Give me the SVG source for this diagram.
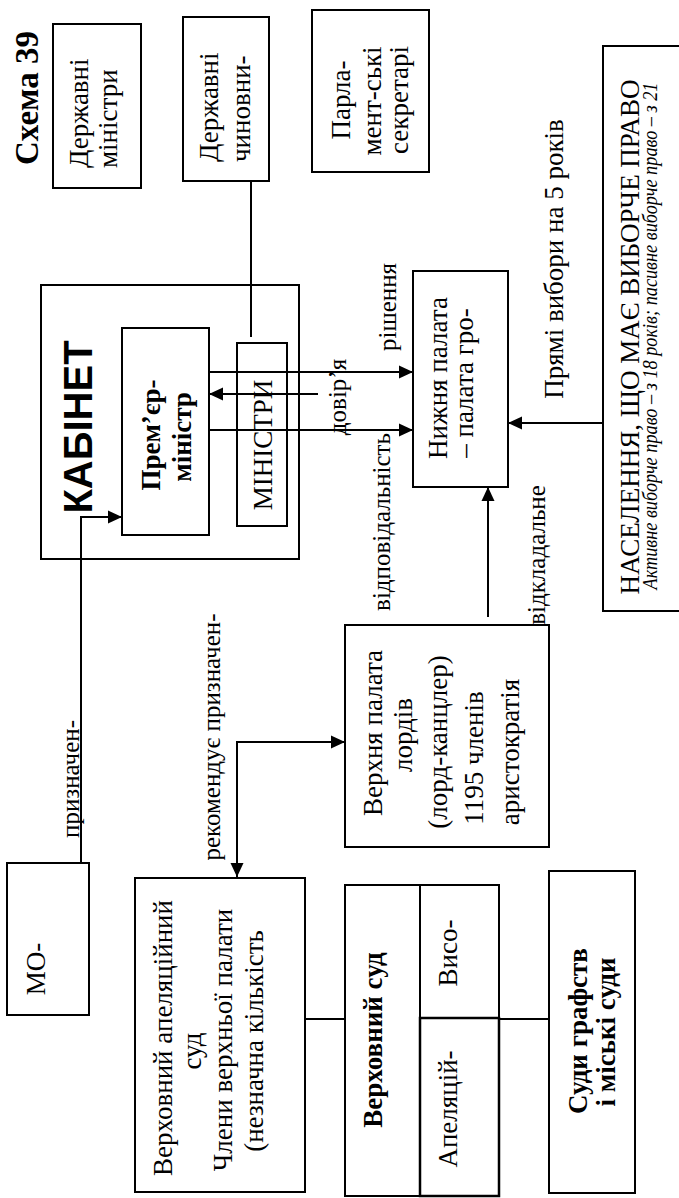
<svg xmlns="http://www.w3.org/2000/svg" width="679" height="1198" viewBox="0 0 679 1198">
<style>
.b{fill:none;stroke:#000;stroke-width:2}
.c{fill:none;stroke:#000;stroke-width:2}
.t{font-family:"Liberation Serif","Times New Roman",serif;font-size:27px;fill:#000}
.l{font-family:"Liberation Serif","Times New Roman",serif;font-size:25px;fill:#000}
.bd{font-weight:bold}
.i{font-style:italic;font-size:20px}
.k{font-family:"Liberation Sans",Arial,sans-serif;font-weight:bold;font-size:40px;fill:#000}
</style>
<defs>
<marker id="a" markerUnits="userSpaceOnUse" markerWidth="14" markerHeight="14" refX="14" refY="7" orient="auto-start-reverse" viewBox="0 0 14 14"><path d="M0,0.5 L14,7 L0,13.5 z" fill="#000"/></marker>
</defs>
<rect width="679" height="1198" fill="#fff"/>
<g id="title"><text class="t bd" style="font-size:33px" text-anchor="middle" transform="translate(38,98) rotate(-90)">Схема 39</text></g>
<g id="derzh-ministry"><rect class="b" x="53" y="24" width="88" height="164"/>
<text class="t" transform="translate(88,168) rotate(-90)">Державні</text>
<text class="t" transform="translate(117,168) rotate(-90)">міністри</text></g>
<g id="derzh-chynovnyky"><rect class="b" x="183" y="17" width="86" height="164"/>
<text class="t" transform="translate(218,162) rotate(-90)">Державні</text>
<text class="t" transform="translate(250,162) rotate(-90)">чиновни-</text></g>
<g id="parl-secretaries"><rect class="b" x="312" y="10" width="117" height="162"/>
<text class="t" text-anchor="middle" transform="translate(350,100) rotate(-90)">Парла-</text>
<text class="t" text-anchor="middle" transform="translate(381,101) rotate(-90)">мент-ські</text>
<text class="t" text-anchor="middle" transform="translate(408,100) rotate(-90)">секретарі</text></g>
<g id="naselennia"><rect class="b" x="603" y="46" width="90" height="565"/>
<text class="t" text-anchor="middle" transform="translate(639,337) rotate(-90)">НАСЕЛЕННЯ, ЩО МАЄ ВИБОРЧЕ ПРАВО</text>
<text class="t i" text-anchor="middle" textLength="507" lengthAdjust="spacingAndGlyphs" transform="translate(657,336) rotate(-90)">Активне виборче право – з 18 років; пасивне виборче право – з 21</text></g>
<g id="kabinet"><rect class="b" x="41" y="285" width="258" height="274"/>
<text class="k" text-anchor="middle" transform="translate(92,427) rotate(-90)">КАБІНЕТ</text></g>
<g id="prem"><rect class="b" x="122" y="328" width="87" height="207"/>
<text class="t bd" text-anchor="middle" transform="translate(160,435) rotate(-90)">Прем’єр-</text>
<text class="t bd" text-anchor="middle" transform="translate(191,437) rotate(-90)">міністр</text></g>
<g id="ministry"><rect class="b" x="237" y="343" width="50" height="183"/>
<text class="t" text-anchor="middle" transform="translate(272,445) rotate(-90)">МІНІСТРИ</text></g>
<g id="nyzhnia"><rect class="b" x="413" y="271" width="95" height="216"/>
<text class="t" text-anchor="middle" transform="translate(447,378) rotate(-90)">Нижня палата</text>
<text class="t" text-anchor="middle" transform="translate(473,383) rotate(-90)">– палата гро-</text></g>
<g id="verkhnia"><rect class="b" x="345" y="625" width="204" height="222"/>
<text class="t" text-anchor="middle" transform="translate(382,733) rotate(-90)">Верхня палата</text>
<text class="t" text-anchor="middle" transform="translate(412,735) rotate(-90)">лордів</text>
<text class="t" text-anchor="middle" transform="translate(447,742) rotate(-90)">(лорд-канцлер)</text>
<text class="t" text-anchor="middle" transform="translate(483,758) rotate(-90)">1195 членів</text>
<text class="t" text-anchor="middle" transform="translate(519,752) rotate(-90)">аристократія</text></g>
<g id="mo"><rect class="b" x="7" y="863" width="82" height="152"/>
<text class="t" text-anchor="middle" transform="translate(45,969) rotate(-90)">МО-</text></g>
<g id="apel-sud"><rect class="b" x="135" y="878" width="170" height="314"/>
<text class="t" text-anchor="middle" transform="translate(172,1038) rotate(-90)">Верховний апеляційний</text>
<text class="t" text-anchor="middle" transform="translate(201,1051) rotate(-90)">суд</text>
<text class="t" text-anchor="middle" transform="translate(232,1040) rotate(-90)">Члени верхньої палати</text>
<text class="t" text-anchor="middle" transform="translate(263,1041) rotate(-90)">(незначна кількість</text></g>
<g id="verkh-sud"><rect class="b" x="345" y="885" width="75" height="311"/>
<rect class="b" x="420" y="885" width="79" height="133"/>
<rect class="b" x="420" y="1018" width="79" height="178" style="stroke-width:2.5"/>
<text class="t bd" text-anchor="middle" transform="translate(382,1040) rotate(-90)">Верховний суд</text>
<text class="t" text-anchor="middle" transform="translate(457,953) rotate(-90)">Висо-</text>
<text class="t" text-anchor="middle" transform="translate(457,1109) rotate(-90)">Апеляцій-</text></g>
<g id="sudy-grafstv"><rect class="b" x="549" y="871" width="86" height="322"/>
<text class="t bd" text-anchor="middle" transform="translate(587,1031) rotate(-90)">Суди графств</text>
<text class="t bd" text-anchor="middle" transform="translate(615,1032) rotate(-90)">і міські суди</text></g>
<g id="connectors">
<path class="c" d="M251,181 V337"/>
<path class="c" d="M209,372 H413" marker-end="url(#a)"/>
<path class="c" d="M318,394 H209" marker-end="url(#a)"/>
<path class="c" d="M209,430 H413" marker-end="url(#a)"/>
<path class="c" d="M603,423 H508" marker-end="url(#a)"/>
<path class="c" d="M488,617 V487" marker-end="url(#a)"/>
<path class="c" d="M81,863 V517 H122" marker-end="url(#a)"/>
<path class="c" d="M237,877 V742 H345" marker-start="url(#a)" marker-end="url(#a)"/>
<path class="c" d="M305,1019 H345"/>
<path class="c" d="M499,1019 H549"/>
</g>
<g id="labels">
<text class="l" text-anchor="middle" transform="translate(396,307) rotate(-90)">рішення</text>
<text class="l" text-anchor="middle" transform="translate(346,397) rotate(-90)">довір’я</text>
<text class="l" text-anchor="middle" transform="translate(390,522) rotate(-90)">відповідальність</text>
<text class="l" text-anchor="middle" transform="translate(545,555) rotate(-90)">відкладальне</text>
<text class="t" text-anchor="middle" transform="translate(563,259) rotate(-90)">Прямі вибори на 5 років</text>
<text class="l" text-anchor="middle" transform="translate(220,737) rotate(-90)">рекомендує призначен-</text>
<text class="l" text-anchor="middle" transform="translate(79,779) rotate(-90)">призначен-</text>
</g>
</svg>
